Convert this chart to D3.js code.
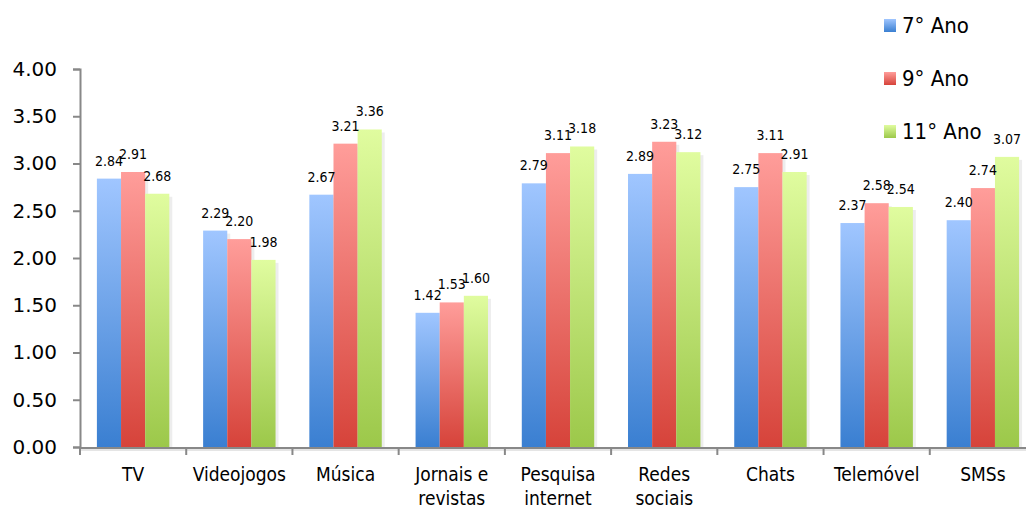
<!DOCTYPE html>
<html>
<head>
<meta charset="utf-8">
<script src="https://cdn.jsdelivr.net/npm/d3@7"></script>
<style>
  body { margin: 0; background: #fff; }
  text { font-family: "DejaVu Sans Condensed", "DejaVu Sans", sans-serif; fill: #000; }
</style>
</head>
<body>
<script>
var categories = ["TV", "Videojogos", "Música", "Jornais e\nrevistas", "Pesquisa\ninternet", "Redes\nsociais", "Chats", "Telemóvel", "SMSs"];
var series = ["7° Ano", "9° Ano", "11° Ano"];
var ano7 = [2.84, 2.29, 2.67, 1.42, 2.79, 2.89, 2.75, 2.37, 2.40];
var ano9 = [2.91, 2.20, 3.21, 1.53, 3.11, 3.23, 3.11, 2.58, 2.74];
var ano11 = [2.68, 1.98, 3.36, 1.60, 3.18, 3.12, 2.91, 2.54, 3.07];
var yTicks = [0, 0.5, 1, 1.5, 2, 2.5, 3, 3.5, 4];

var width = 1026,
    height = 512;

var plotLeft = 80, plotRight = 1036, plotTop = 69, plotBottom = 447;

var colors = [["#a0c6ff", "#3a7fd1"], ["#ff9d9a", "#d6433a"], ["#e0fc9f", "#9cc84a"]];
var values = [ano7, ano9, ano11];

var svg = d3.select("body").append("svg")
    .attr("width", width)
    .attr("height", height);

var defs = svg.append("defs");
colors.forEach(function(c, i) {
  var g = defs.append("linearGradient")
      .attr("id", "grad" + i)
      .attr("x1", 0).attr("y1", 0).attr("x2", 0).attr("y2", 1);
  g.append("stop").attr("offset", "0%").attr("stop-color", c[0]);
  g.append("stop").attr("offset", "100%").attr("stop-color", c[1]);
});

var x = d3.scaleBand()
    .domain(d3.range(categories.length))
    .range([plotLeft, plotRight]);

var inner = d3.scaleBand()
    .domain(d3.range(series.length))
    .range([0, x.bandwidth()])
    .paddingOuter(0.7);

var y = d3.scaleLinear()
    .domain([0, 4])
    .range([plotBottom, plotTop]);

// y axis
var yAxis = svg.append("g")
    .attr("transform", "translate(" + plotLeft + ",0)")
    .call(d3.axisLeft(y).tickValues(yTicks).tickSize(7).tickPadding(16).tickFormat(d3.format(".2f")));
yAxis.select(".domain").attr("stroke", "#888").attr("stroke-width", 2);
yAxis.selectAll(".tick line").attr("stroke", "#888").attr("stroke-width", 2);
yAxis.selectAll(".tick text")
    .style("font-family", "'DejaVu Sans', sans-serif")
    .style("font-size", "20px")
    .attr("fill", "#000");

// bars
var groups = svg.selectAll(".cat")
    .data(categories)
    .enter().append("g")
    .attr("class", "cat")
    .attr("transform", function(d, i) { return "translate(" + x(i) + ",0)"; });

groups.each(function(c, ci) {
  var g = d3.select(this);
  series.forEach(function(s, si) {
    var v = values[si][ci];
    g.append("rect")
        .attr("x", inner(si) + 3)
        .attr("y", y(v) + 3)
        .attr("width", inner.bandwidth())
        .attr("height", y(0) - y(v) - 3)
        .attr("fill", "#000")
        .attr("opacity", 0.07);
  });
  series.forEach(function(s, si) {
    var v = values[si][ci];
    g.append("rect")
        .attr("x", inner(si))
        .attr("y", y(v))
        .attr("width", inner.bandwidth())
        .attr("height", y(0) - y(v))
        .attr("fill", "url(#grad" + si + ")");
  });
  series.forEach(function(s, si) {
    var v = values[si][ci];
    g.append("text")
        .attr("x", inner(si) + inner.bandwidth() / 2)
        .attr("y", y(v) - 13)
        .attr("text-anchor", "middle")
        .style("font-size", "14px")
        .text(d3.format(".2f")(v));
  });
});

// x axis
var xAxis = svg.append("g");
xAxis.append("line")
    .attr("x1", plotLeft).attr("x2", width)
    .attr("y1", plotBottom + 3).attr("y2", plotBottom + 3)
    .attr("stroke", "#000").attr("stroke-opacity", 0.1).attr("stroke-width", 2);
xAxis.append("line")
    .attr("x1", plotLeft).attr("x2", width)
    .attr("y1", plotBottom + 1).attr("y2", plotBottom + 1)
    .attr("stroke", "#888").attr("stroke-width", 2);
xAxis.selectAll(".xtick")
    .data(d3.range(categories.length + 1))
    .enter().append("line")
    .attr("x1", function(d) { return plotLeft + d * x.step(); })
    .attr("x2", function(d) { return plotLeft + d * x.step(); })
    .attr("y1", plotBottom).attr("y2", plotBottom + 8)
    .attr("stroke", "#888").attr("stroke-width", 2);

var labels = xAxis.selectAll(".xlab")
    .data(categories)
    .enter().append("text")
    .attr("text-anchor", "middle")
    .style("font-size", "19px")
    .attr("transform", function(d, i) { return "translate(" + (x(i) + x.bandwidth() / 2) + ",481)"; });
labels.selectAll("tspan")
    .data(function(d) { return d.split("\n"); })
    .enter().append("tspan")
    .attr("x", 0)
    .attr("dy", function(d, i) { return i ? 24 : 0; })
    .text(function(d) { return d; });

// legend
var legend = svg.selectAll(".legend")
    .data(series)
    .enter().append("g")
    .attr("transform", function(d, i) { return "translate(884," + (19 + i * 53) + ")"; });
legend.append("rect")
    .attr("width", 12).attr("height", 13)
    .attr("fill", function(d, i) { return "url(#grad" + i + ")"; });
legend.append("text")
    .attr("x", 18).attr("y", 14)
    .style("font-size", "22px")
    .text(function(d) { return d; });
</script>
</body>
</html>
